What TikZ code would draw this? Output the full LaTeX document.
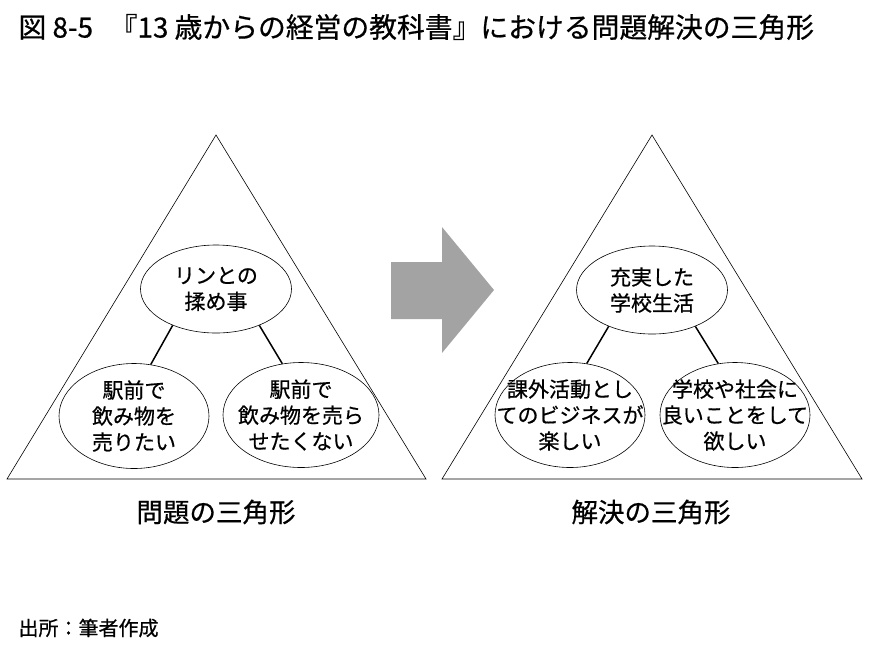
\documentclass[tikz,border=0pt]{standalone}
\usepackage{fontspec}
\setmainfont{Noto Sans CJK JP}[FakeBold=0.6]
\usetikzlibrary{shapes.geometric}
\usetikzlibrary{positioning}
\definecolor{arrowgray}{RGB}{163,163,163}

\begin{document}
\begin{tikzpicture}[
  x=1pt, y=-1pt,
  every node/.style={font=\fontsize{21}{26}\selectfont, align=center},
  bubble/.style={ellipse, draw, line width=0.6pt, minimum width=150pt, minimum height=105pt},
  topbubble/.style={bubble, minimum width=151pt, minimum height=88pt},
  tri/.style={draw, line width=0.6pt},
  link/.style={line width=1.5pt},
  caption/.style={font=\fontsize{26.5}{32}\selectfont},
]
\useasboundingbox (0,0) rectangle (874,656);

\node[anchor=west, font=\fontsize{27.8}{32}\selectfont] (title) at (15,27)
  {図 8-5\hspace{0.6em}『13 歳からの経営の教科書』における問題解決の三角形};

% problem triangle
\draw[tri] (7,479) -- (216,135) -- (426,479) -- cycle;
\node[topbubble, label={center:{リンとの\\揉め事}}] (rin) at (216,289) {};
\node[bubble, label={center:{駅前で\\飲み物を\\売りたい}}] (sell) at (134,416) {};
\node[bubble, minimum width=156pt, label={center:{駅前で\\飲み物を売ら\\せたくない}}] (nosell) at (301,415) {};
\draw[link] (rin.220) -- (sell.72);
\draw[link] (rin.320) -- (nosell.110);
\node[caption] (problem) at (216,512) {問題の三角形};

% arrow
\fill[arrowgray] (391,262) -- (442,262) -- (442,227) -- (494,290)
  -- (442,353) -- (442,319) -- (391,319) -- cycle;

% solution triangle
\draw[tri] (442,479) -- (652,135) -- (862,479) -- cycle;
\node[topbubble, label={center:{充実した\\学校生活}}] (school) at (652,290) {};
\node[bubble, label={center:{課外活動とし\\てのビジネスが\\楽しい}}] (biz) at (570,415) {};
\node[bubble, label={center:{学校や社会に\\良いことをして\\欲しい}}] (good) at (735,415) {};
\draw[link] (school.220) -- (biz.72);
\draw[link] (school.320) -- (good.108);
\node[caption] (solution) at (651,512) {解決の三角形};

\node[anchor=west, font=\fontsize{20}{24}\selectfont] (source) at (15,628) {出所：筆者作成};
\end{tikzpicture}
\end{document}
